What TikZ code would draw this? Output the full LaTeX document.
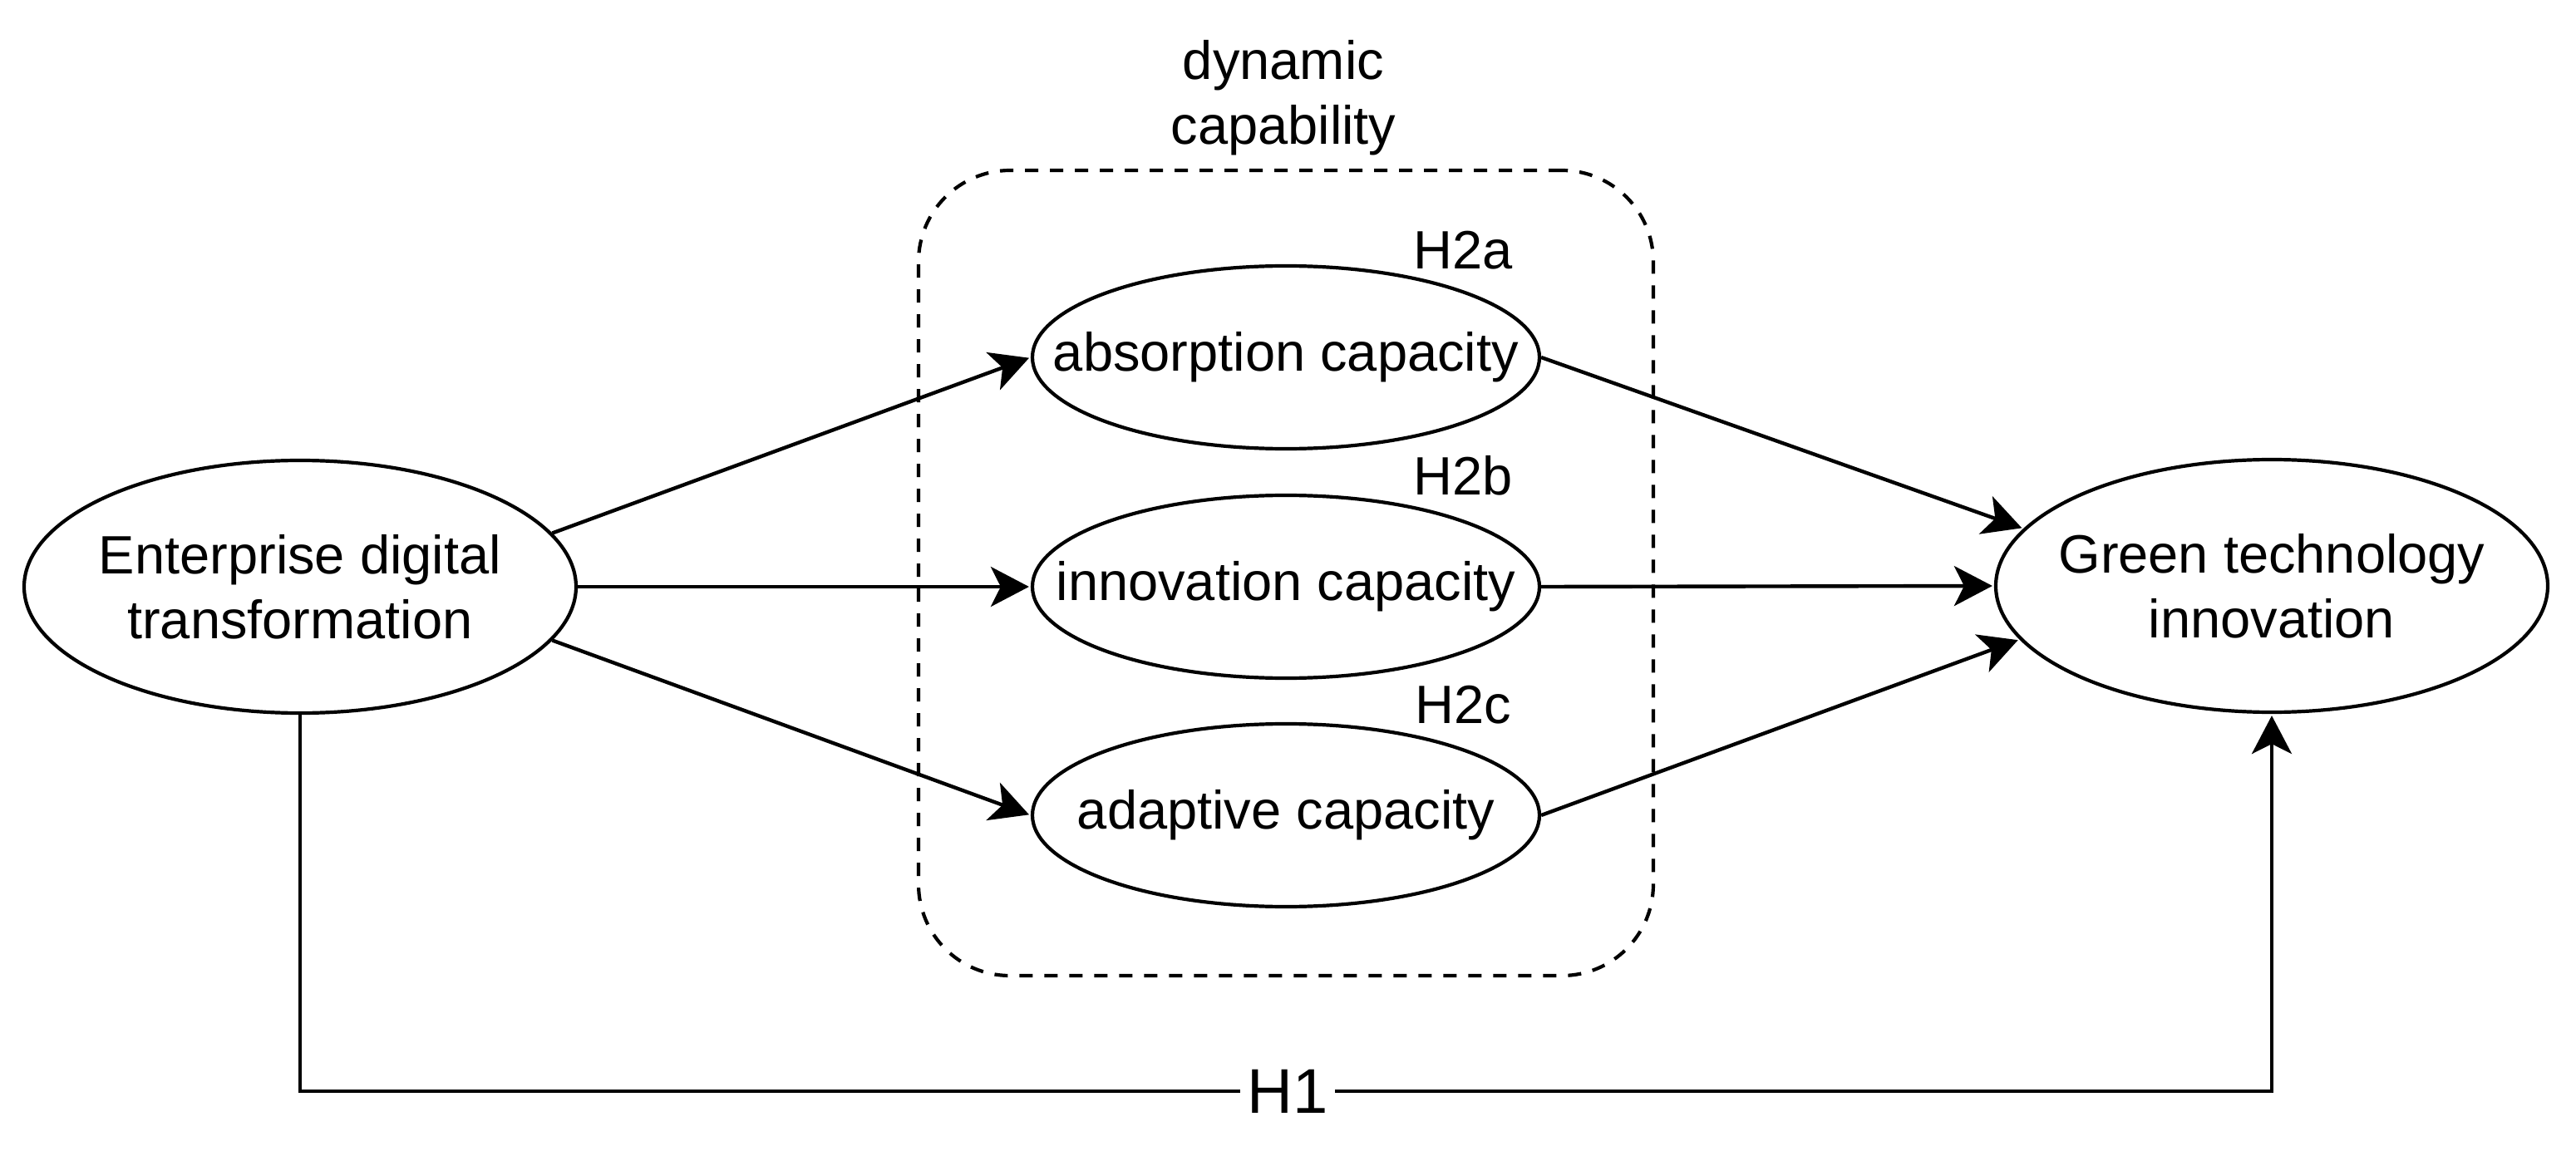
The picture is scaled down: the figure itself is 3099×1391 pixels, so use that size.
\documentclass[tikz,border=0pt]{standalone}
\usepackage{fontspec}
\setmainfont{Liberation Sans}
\usetikzlibrary{arrows.meta,shapes.geometric}
\begin{document}
\begin{tikzpicture}[x=0.25pt,y=-0.25pt,
  txt/.style={font=\fontsize{16.25}{19.5}\selectfont, align=center, inner sep=0pt},
  oval/.style={ellipse, draw, line width=1.05pt, inner sep=0pt},
  bigoval/.style={oval, minimum width=166pt, minimum height=76pt},
  smalloval/.style={oval, minimum width=152.5pt, minimum height=55pt},
  conn/.style={line width=1.1pt, -{Stealth[length=11.5pt,width=12pt,inset=3pt]}, shorten >=0.5pt},
  container/.style={draw, line width=1.05pt, dash pattern=on 4pt off 3.5pt, rounded corners=27.5pt, inner sep=0pt}
]
\useasboundingbox (0,0) rectangle (3099,1391);

% container
\node[container, minimum width=221pt, minimum height=242.25pt] (DC) at (1547,689.5) {};
\node[txt] (dyn) at (1544,118) {dynamic\\capability};

% ellipses
\node[bigoval, label={[txt]center:Enterprise digital\\transformation}] (L) at (361,706) {};
\node[bigoval, label={[txt]center:Green technology\\innovation}] (R) at (2733,705) {};
\node[smalloval, label={[txt]center:absorption capacity}] (A) at (1547,430) {};
\node[smalloval, label={[txt]center:innovation capacity}] (I) at (1547,706) {};
\node[smalloval, label={[txt]center:adaptive capacity}] (D) at (1547,981) {};

% hypothesis labels
\node[txt, anchor=base] (h2a) at (1760,324) {H2a};
\node[txt, anchor=base] (h2b) at (1760,596) {H2b};
\node[txt, anchor=base] (h2c) at (1760,870) {H2c};

% connectors
\draw[conn] (L.12.5) -- (A.west);
\draw[conn] (L.east) -- (I.west);
\draw[conn] (L.-12.5) -- (D.west);
\draw[conn] (A.east) -- (R.167.5);
\draw[conn] (I.east) -- (R.west);
\draw[conn] (D.east) -- (R.192.3);

% H1 path
\coordinate (hb) at (1549,1313);
\draw[conn] (L.south) |- (hb) -| (R.south);
\node[font=\fontsize{19}{22}\selectfont, fill=white, inner xsep=2pt, inner ysep=0pt] (h1) at (hb) {H1};
\end{tikzpicture}
\end{document}
